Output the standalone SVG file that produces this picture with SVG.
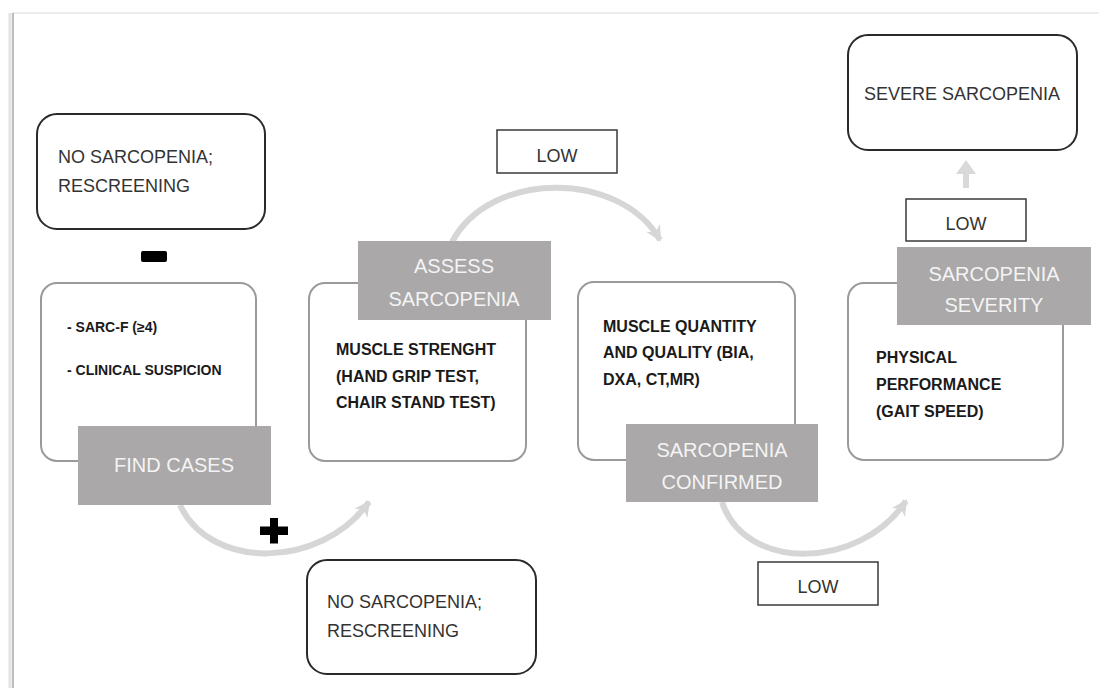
<svg xmlns="http://www.w3.org/2000/svg" width="1099" height="688" viewBox="0 0 1099 688">
<defs>
<style>
.dark{fill:#fff;stroke:#2a2a2a;stroke-width:2}
.step{fill:#fff;stroke:#9a9a9a;stroke-width:2}
.lab{fill:#aaa8a8}
.low{fill:#fff;stroke:#3a3a3a;stroke-width:1.5}
.t{font-family:"Liberation Sans",Arial,sans-serif;font-size:18px;fill:#333}
.b{font-family:"Liberation Sans",Arial,sans-serif;font-size:16px;font-weight:bold;fill:#1a1a1a}
.s{font-family:"Liberation Sans",Arial,sans-serif;font-size:14px;font-weight:bold;fill:#1a1a1a}
.w{font-family:"Liberation Sans",Arial,sans-serif;font-size:20px;fill:#f4f4f4;text-anchor:middle}
.arc{fill:none;stroke:#d6d6d6;stroke-width:6}
</style>
<marker id="ah" markerUnits="userSpaceOnUse" markerWidth="20" markerHeight="20" refX="14" refY="10" orient="auto">
<path d="M0,2 L16,10 L0,18 L5,10 Z" fill="#d6d6d6"/>
</marker>
</defs>
<rect width="1099" height="688" fill="#fff"/>
<line x1="12" y1="13" x2="1099" y2="13" stroke="#ececec" stroke-width="2"/>
<line x1="10" y1="13" x2="10" y2="688" stroke="#e2e2e2" stroke-width="3"/>
<line x1="13" y1="13" x2="13" y2="688" stroke="#bdbdbd" stroke-width="2"/>

<g id="connectors">
<path class="arc" d="M452,242 C490,170 620,170 660,240" marker-end="url(#ah)"/>
<path class="arc" d="M180,505 C210,570 320,570 369,502" marker-end="url(#ah)"/>
<path class="arc" d="M722,502 C745,572 860,570 906,501" marker-end="url(#ah)"/>
<rect x="963" y="172" width="6" height="16" fill="#d9d9d9"/>
<polygon points="956,174 976,174 966,160" fill="#d9d9d9"/>
<rect x="141" y="251" width="26" height="11" rx="2" fill="#000"/>
<path d="M270,518 h8 v8.5 h10 v8.5 h-10 v8.5 h-8 v-8.5 h-10 v-8.5 h10 Z" fill="#000"/>
</g>

<g id="no-sarcopenia-top">
<rect class="dark" x="37" y="114" width="228" height="115" rx="20"/>
<text class="t" x="58" y="163">NO SARCOPENIA;</text>
<text class="t" x="58" y="192">RESCREENING</text>
</g>

<g id="find-cases">
<rect class="step" x="41" y="283" width="215" height="178" rx="16"/>
<text class="s" x="67" y="332">- SARC-F (≥4)</text>
<text class="s" x="67" y="375">- CLINICAL SUSPICION</text>
<rect class="lab" x="78" y="426" width="193" height="79"/>
<text class="w" x="174" y="472" font-size="22">FIND CASES</text>
</g>

<g id="assess-sarcopenia">
<rect class="step" x="309" y="283" width="217" height="178" rx="16"/>
<rect class="lab" x="358" y="241" width="193" height="79"/>
<text class="w" x="454" y="273">ASSESS</text>
<text class="w" x="454" y="306">SARCOPENIA</text>
<text class="b" x="336" y="355">MUSCLE STRENGHT</text>
<text class="b" x="336" y="382">(HAND GRIP TEST,</text>
<text class="b" x="336" y="408">CHAIR STAND TEST)</text>
</g>

<g id="low-top">
<rect class="low" x="497" y="130" width="120" height="43"/>
<text class="t" x="557" y="162" text-anchor="middle">LOW</text>
</g>

<g id="sarcopenia-confirmed">
<rect class="step" x="578" y="282" width="217" height="178" rx="16"/>
<text class="b" x="603" y="332">MUSCLE QUANTITY</text>
<text class="b" x="603" y="358">AND QUALITY (BIA,</text>
<text class="b" x="603" y="385">DXA, CT,MR)</text>
<rect class="lab" x="626" y="424" width="192" height="78"/>
<text class="w" x="722" y="457">SARCOPENIA</text>
<text class="w" x="722" y="489">CONFIRMED</text>
</g>

<g id="low-bottom">
<rect class="low" x="758" y="562" width="120" height="43"/>
<text class="t" x="818" y="593" text-anchor="middle">LOW</text>
</g>

<g id="sarcopenia-severity">
<rect class="step" x="848" y="283" width="215" height="177" rx="16"/>
<rect class="lab" x="897" y="247" width="194" height="78"/>
<text class="w" x="994" y="281">SARCOPENIA</text>
<text class="w" x="994" y="312">SEVERITY</text>
<text class="b" x="876" y="363">PHYSICAL</text>
<text class="b" x="876" y="390">PERFORMANCE</text>
<text class="b" x="876" y="417">(GAIT SPEED)</text>
</g>

<g id="low-right">
<rect class="low" x="906" y="199" width="120" height="42"/>
<text class="t" x="966" y="230" text-anchor="middle">LOW</text>
</g>

<g id="severe-sarcopenia">
<rect class="dark" x="848" y="35" width="229" height="115" rx="20"/>
<text class="t" x="962" y="100" text-anchor="middle" font-size="17.5">SEVERE SARCOPENIA</text>
</g>

<g id="no-sarcopenia-bottom">
<rect class="dark" x="307" y="560" width="229" height="114" rx="20"/>
<text class="t" x="327" y="608">NO SARCOPENIA;</text>
<text class="t" x="327" y="637">RESCREENING</text>
</g>
</svg>
